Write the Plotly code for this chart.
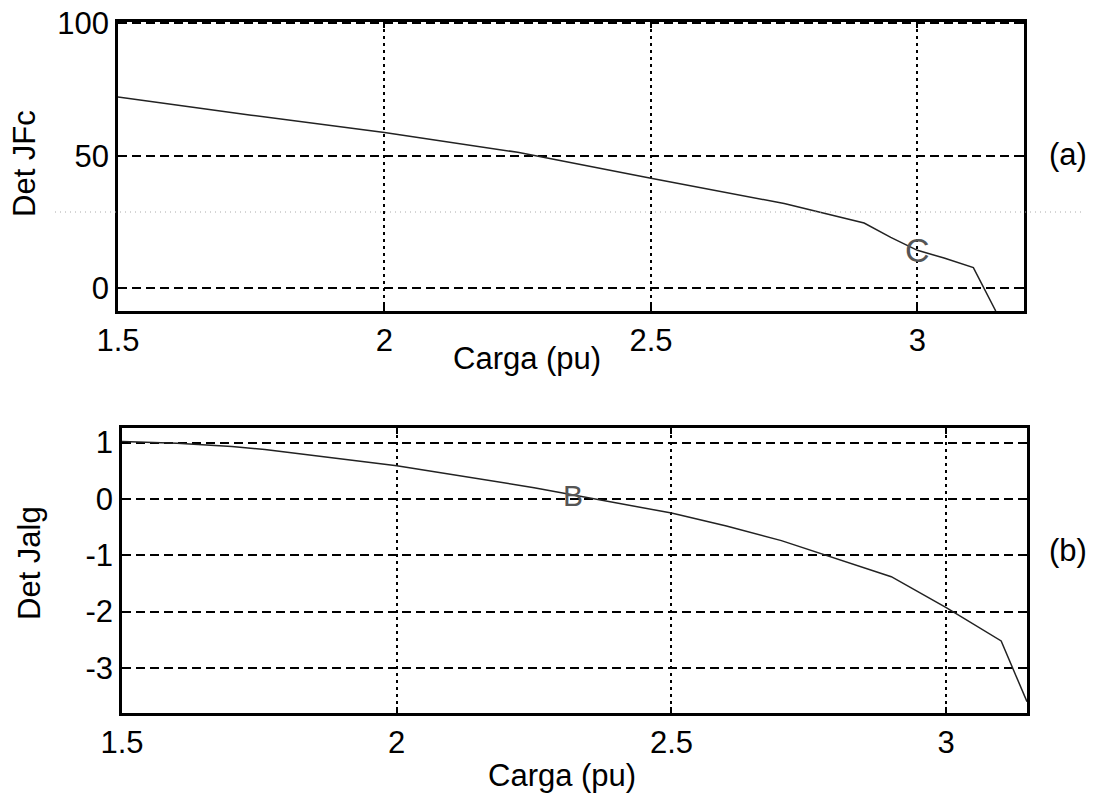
import plotly.graph_objects as go

# Load (pu) vs. determinant of the reduced Jacobians
carga_a = [1.5, 1.75, 2.0, 2.25, 2.5, 2.75, 2.9, 2.95, 3.0, 3.05, 3.105, 3.147]
det_jfc = [72.2, 65.3, 58.8, 51.3, 41.5, 32.0, 24.6, 19.2, 14.3, 11.4, 7.8, -8.6]

carga_b = [1.5, 1.6, 1.7, 1.76, 2.0, 2.25, 2.5, 2.6, 2.7, 2.78, 2.9, 3.0, 3.05, 3.10, 3.147]
det_jalg = [1.02, 0.99, 0.93, 0.88, 0.59, 0.20, -0.25, -0.48, -0.74, -1.0, -1.38, -1.93, -2.23, -2.52, -3.6]

# Marked operating points
punto_c = (3.0, 14.3)
punto_b = (2.32, 0.07)

xticks = [1.5, 2, 2.5, 3]
xtick_text = ["1.5", "2", "2.5", "3"]
yticks_a = [0, 50, 100]
ytick_text_a = ["0", "50", "100"]
yticks_b = [-3, -2, -1, 0, 1]
ytick_text_b = ["-3", "-2", "-1", "0", "1"]

W, H = 1097, 795
FONT = "Liberation Sans, Arial, sans-serif"
FS = 31


def px(x):
    return x / W


def py(y):
    return 1 - y / H


fig = go.Figure()

fig.add_trace(go.Scatter(x=carga_a, y=det_jfc, mode="lines",
                         line=dict(color="#222", width=1.5),
                         xaxis="x", yaxis="y", showlegend=False))
fig.add_trace(go.Scatter(x=carga_b, y=det_jalg, mode="lines",
                         line=dict(color="#222", width=1.5),
                         xaxis="x2", yaxis="y2", showlegend=False))

axis_common = dict(
    showline=True, linecolor="black", linewidth=2.5, mirror="ticks",
    ticks="inside", ticklen=6, tickwidth=2, tickcolor="black",
    showgrid=True, gridcolor="black", gridwidth=2,
    zeroline=False, automargin=False,
    tickfont=dict(family=FONT, size=FS, color="black"),
)

fig.update_layout(
    width=W, height=H,
    margin=dict(l=0, r=0, t=0, b=0),
    paper_bgcolor="white", plot_bgcolor="white",
    font=dict(family=FONT, size=FS, color="black"),
    xaxis=dict(axis_common, domain=[px(118), px(1024)], range=[1.5, 3.2],
               tickvals=xticks, ticktext=xtick_text, griddash="3px,4px",
               anchor="y"),
    yaxis=dict(axis_common, domain=[py(311), py(22)], range=[-8.6, 100.5],
               tickvals=yticks_a, ticktext=ytick_text_a, griddash="9px,5px",
               anchor="x"),
    xaxis2=dict(axis_common, domain=[px(122), px(1027)], range=[1.5, 3.147],
                tickvals=xticks, ticktext=xtick_text, griddash="3px,4px",
                anchor="y2"),
    yaxis2=dict(axis_common, domain=[py(713), py(428)], range=[-3.8, 1.26],
                tickvals=yticks_b, ticktext=ytick_text_b, griddash="9px,5px",
                anchor="x2"),
)


def label(text, x, y, **kw):
    return dict(text=text, x=px(x), y=py(y), xref="paper", yref="paper",
                xanchor="center", yanchor="middle", showarrow=False,
                font=dict(size=FS), **kw)


annotations = [
    label("Carga (pu)", 527, 358),
    label("Carga (pu)", 562, 775),
    label("Det JFc", 25, 164, textangle=-90),
    label("Det Jalg", 29, 563, textangle=-90),
    label("(a)", 1068, 155),
    label("(b)", 1068, 550),
    dict(text="C", x=punto_c[0], y=punto_c[1], xref="x", yref="y",
         xanchor="center", yanchor="middle", showarrow=False,
         font=dict(size=34, color="#555")),
    dict(text="B", x=punto_b[0], y=punto_b[1], xref="x2", yref="y2",
         xanchor="center", yanchor="middle", showarrow=False,
         font=dict(size=30, color="#555")),
]
fig.update_layout(annotations=annotations)

# faint dotted line running across the page
fig.add_shape(type="line", xref="paper", yref="paper",
              x0=px(55), x1=px(1085), y0=py(212), y1=py(212),
              line=dict(color="#aaa", width=1, dash="1px,4px"))

fig.write_html("out.html")
